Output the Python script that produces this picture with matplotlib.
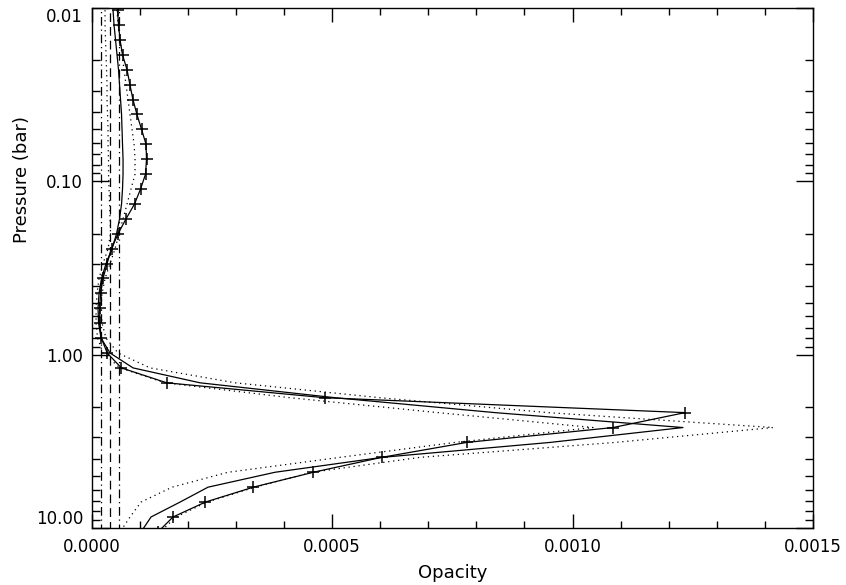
import matplotlib
matplotlib.use('Agg')
import matplotlib.pyplot as plt
from matplotlib.ticker import FixedLocator, NullFormatter, MultipleLocator

# pressure levels (bar)
pressure = [0.01029, 0.01254, 0.01528, 0.01863, 0.02271, 0.02768, 0.03374, 0.04113,
            0.05014, 0.06112, 0.07451, 0.09084, 0.1107, 0.1350, 0.1646, 0.2006,
            0.2445, 0.2981, 0.3634, 0.4430, 0.5400, 0.6583, 0.8024, 0.9779,
            1.192, 1.453, 1.771, 2.159, 2.632, 3.208, 3.911, 4.768,
            5.812, 7.085, 8.637, 10.53]

# opacity profiles, in units of 1e-5
model_plus = [5.41, 5.61, 5.93, 6.44, 7.38, 7.98, 8.61, 9.44, 10.40, 11.33, 11.43, 11.23,
              10.19, 8.94, 7.17, 5.51, 4.16, 3.22, 2.39, 1.87, 1.70, 1.70, 2.04, 3.26,
              6.20, 15.63, 48.48, 123.39, 108.42, 78.00, 60.33, 46.11, 33.64, 23.66, 16.94, 13.83]
retrieved = [4.47, 4.68, 4.99, 5.30, 5.61, 5.82, 6.03, 6.24, 6.34, 6.44, 6.55, 6.55,
             6.44, 6.24, 5.82, 5.20, 4.26, 3.01, 2.08, 1.56, 1.35, 1.46, 1.98, 3.85,
             8.63, 22.56, 50.62, 83.89, 122.97, 95.32, 60.40, 38.15, 24.22, 18.40, 12.37, 10.29]
err_high = [5.30, 5.51, 5.93, 6.34, 6.76, 7.17, 7.59, 8.00, 8.42, 8.84, 9.04, 9.04,
            8.21, 7.38, 6.55, 5.72, 4.89, 3.85, 2.81, 2.18, 1.98, 2.18, 3.01, 5.51,
            12.16, 29.83, 59.98, 94.91, 141.68, 108.84, 68.30, 45.84, 33.99, 24.01, 17.57, 14.24]
err_low = [2.81, 2.81, 2.91, 3.01, 3.12, 3.22, 3.22, 3.33, 3.43, 3.43, 3.53, 3.53,
           3.64, 3.74, 3.85, 3.95, 3.43, 2.39, 1.56, 1.14, 0.94, 0.94, 1.25, 2.39,
           5.93, 15.28, 41.27, 72.04, 104.26, 75.57, 51.66, 28.38, 16.74, 10.29, 8.00, 5.93]

# a priori (constant) and its error bounds, units of 1e-5
apriori = 3.85
apriori_low = 2.0
apriori_high = 5.7
apriori_p = [0.005, 20.0]

scale = 1e-5

fig = plt.figure(figsize=(8.46, 5.85), dpi=100)
ax = fig.add_axes([0.1082, 0.0974, 0.8528, 0.8889])

lw = 0.9
dots = (0, (1, 3))
ax.plot([v * scale for v in model_plus], pressure, color='black', lw=lw,
        marker='+', markersize=9, markeredgewidth=1.1)
ax.plot([v * scale for v in retrieved], pressure, color='black', lw=lw)
ax.plot([v * scale for v in err_high], pressure, color='black', lw=lw, linestyle=dots)
ax.plot([v * scale for v in err_low], pressure, color='black', lw=lw, linestyle=dots)

ax.plot([apriori * scale] * 2, apriori_p, color='black', lw=lw, linestyle=(0, (7, 4)))
ax.plot([apriori_low * scale] * 2, apriori_p, color='black', lw=lw, linestyle=(0, (7, 3, 1, 3)))
ax.plot([apriori_high * scale] * 2, apriori_p, color='black', lw=lw, linestyle=(0, (7, 3, 1, 3)))

ax.set_yscale('log')
ax.set_ylim(10, 0.01)
ax.set_xlim(0, 0.0015)

ax.yaxis.set_major_locator(FixedLocator([0.01, 0.1, 1, 10]))
ax.set_yticklabels(['0.01', '0.10', '1.00', '10.00'])
minors = [m * d for d in (0.01, 0.1, 1) for m in range(2, 10)]
ax.yaxis.set_minor_locator(FixedLocator(minors))
ax.yaxis.set_minor_formatter(NullFormatter())

ax.set_xticks([0, 0.0005, 0.0010, 0.0015])
ax.set_xticklabels(['0.0000', '0.0005', '0.0010', '0.0015'])
ax.xaxis.set_minor_locator(MultipleLocator(0.0001))

ax.tick_params(which='both', direction='in', top=True, right=True, labelsize=12, width=1)
ax.tick_params(axis='y', which='major', length=12, pad=6)
ax.tick_params(axis='y', which='minor', length=6)
ax.tick_params(axis='x', which='major', length=10, pad=7)
ax.tick_params(axis='x', which='minor', length=5)

# nudge end labels inward like the original
yt = ax.yaxis.get_major_ticks()
yt[0].label1.set_va('top')
yt[-1].label1.set_va('bottom')

for s in ax.spines.values():
    s.set_linewidth(1.0)

ax.set_xlabel('Opacity', fontsize=13, labelpad=6)
ax.set_ylabel('Pressure (bar)', fontsize=13)
ax.yaxis.set_label_coords(-0.096, 0.67)
ax.yaxis.label.set_va('center')

fig.savefig('out.png', dpi=100)
